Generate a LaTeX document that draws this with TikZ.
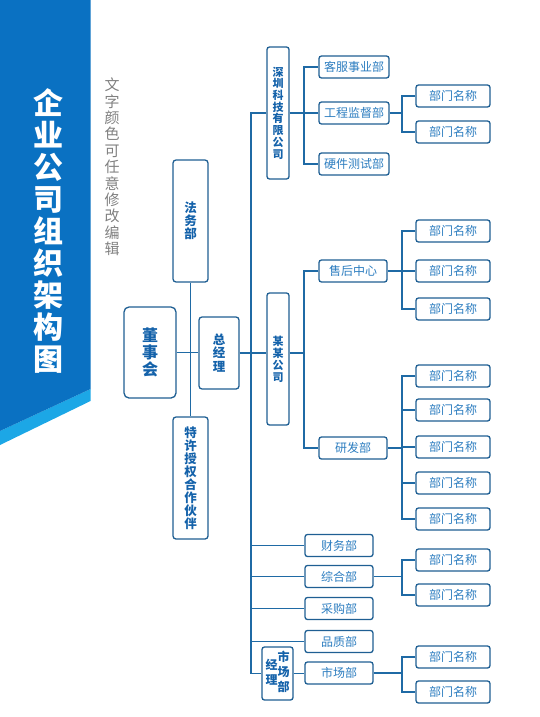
\documentclass[tikz,border=0pt]{standalone}
\usepackage{fontspec}
\newfontfamily\cjk{Noto Sans CJK SC}
\usetikzlibrary{positioning,calc}
\definecolor{bannerblue}{HTML}{0A71C2}
\definecolor{stripeblue}{HTML}{1CA7E6}
\definecolor{lnblue}{HTML}{1F6AA5}
\definecolor{bdblue}{HTML}{1F5F93}
\definecolor{txblue}{HTML}{2C7DC0}
\definecolor{bdtext}{HTML}{1462AA}
\definecolor{tipgrey}{HTML}{808080}

\begin{document}
\begin{tikzpicture}[x=1pt,y=-1pt,
    every node/.style={font=\cjk\fontsize{12}{13}\selectfont, text=txblue},
    dept/.style={draw=bdblue, line width=1.3pt, rounded corners=2.5pt, fill=white, minimum width=68, minimum height=22, inner sep=0pt},
    leaf/.style={dept, minimum width=74},
    vbox/.style={dept, align=center, text=bdtext, font=\cjk\bfseries\fontsize{12.5}{13}\selectfont},
    link/.style={draw=lnblue, line width=1.3pt}]
    \useasboundingbox (0,0) rectangle (539,717);
    \fill[stripeblue] (0,431) -- (90.5,389) -- (90.5,401) -- (0,445) -- cycle;
    \fill[bannerblue] (0,0) -- (90.5,0) -- (90.5,389) -- (0,431) -- cycle;
    \node[font=\cjk\bfseries\fontsize{30}{32}\selectfont, text=white, align=center] (title) at (48,231) {企\\业\\公\\司\\组\\织\\架\\构\\图};
    \node[font=\cjk\fontsize{15}{16.4}\selectfont, text=tipgrey, align=center] (tip) at (112,167) {文\\字\\颜\\色\\可\\任\\意\\修\\改\\编\\辑};

    \node[vbox, minimum width=52, minimum height=91, rounded corners=5pt, font=\cjk\bfseries\fontsize{16}{17}\selectfont] (dsh) at (150,352.5) {董\\事\\会};
    \node[vbox, minimum width=35, minimum height=122, rounded corners=3pt] (fwb) at (190.5,221) {法\\务\\部};
    \node[vbox, minimum width=35, minimum height=122, rounded corners=3pt] (txsq) at (190.5,478) {特\\许\\授\\权\\合\\作\\伙\\伴};
    \node[vbox, minimum width=40, minimum height=72, rounded corners=3pt, font=\cjk\bfseries\fontsize{12.5}{13.5}\selectfont] (zjl) at (219,353) {总\\经\\理};
    \node[vbox, minimum width=22, minimum height=132, font=\cjk\bfseries\fontsize{11}{11.7}\selectfont] (szkj) at (278,113) {深\\圳\\科\\技\\有\\限\\公\\司};
    \node[vbox, minimum width=22, minimum height=132, font=\cjk\bfseries\fontsize{11}{12}\selectfont] (mmgs) at (278,359) {某\\某\\公\\司};
    \node[vbox, minimum width=31, minimum height=53, font=\cjk\bfseries\fontsize{12}{15}\selectfont] (scjl) at (277.5,673.5)
      {\begin{tabular}[c]{@{}c@{}}经\\理\end{tabular}\begin{tabular}[c]{@{}c@{}}市\\场\\部\end{tabular}};

    \node[dept, minimum width=70] (kfsy) at (354,67) {客服事业部};
    \node[dept, minimum width=70] (gcjd) at (354,113) {工程监督部};
    \node[dept, minimum width=70] (yjcs) at (354,164) {硬件测试部};
    \node[dept] (shzx) at (353,271) {售后中心};
    \node[dept] (yfb) at (353,448) {研发部};
    \node[dept] (cwb) at (339,545.5) {财务部};
    \node[dept] (zhb) at (339,576.5) {综合部};
    \node[dept] (cgb) at (339,608.5) {采购部};
    \node[dept] (pzb) at (339,641.5) {品质部};
    \node[dept] (scb) at (339,673) {市场部};

    \foreach \y [count=\i] in {96,132} \node[leaf] (gc\i) at (453,\y) {部门名称};
    \foreach \y [count=\i] in {231,271,309} \node[leaf] (sh\i) at (453,\y) {部门名称};
    \foreach \y [count=\i] in {376,410,447,483,519} \node[leaf] (yf\i) at (453,\y) {部门名称};
    \foreach \y [count=\i] in {560,595} \node[leaf] (zh\i) at (453,\y) {部门名称};
    \foreach \y [count=\i] in {657,692} \node[leaf] (sc\i) at (453,\y) {部门名称};

    \coordinate (trunk) at (251,0);
    \coordinate (busa) at (304,0);
    \coordinate (busb) at (402,0);

    \draw[link] (fwb) -- (txsq);
    \draw[link] (dsh.east) -- (dsh.east -| zjl.west);
    \draw[link] (zjl.east) -- (zjl.east -| mmgs.west);
    \draw[link] (szkj.west) -| (trunk |- scjl.west) -- (scjl.west);
    \foreach \n in {cwb,zhb,cgb,pzb} \draw[link] (\n.west) -- (\n.west -| trunk);
    \draw[link] (scjl.east) -- (scjl.east -| scb.west);

    \draw[link] (szkj.east) -- (gcjd.west);
    \draw[link] (kfsy.west) -| (busa |- yjcs.west) -- (yjcs.west);
    \draw[link] (zjl.east -| mmgs.east) -- (zjl.east -| busa);
    \draw[link] (shzx.west) -| (busa |- yfb.west) -- (yfb.west);

    \draw[link] (gcjd.east) -- (gcjd.east -| busb);
    \draw[link] (gc1.west) -| (busb |- gc2.west) -- (gc2.west);
    \draw[link] (shzx.east) -- (sh2.west);
    \draw[link] (sh1.west) -| (busb |- sh3.west) -- (sh3.west);
    \draw[link] (yfb.east) -- (yfb.east -| busb);
    \draw[link] (yf1.west) -| (busb |- yf5.west) -- (yf5.west);
    \foreach \i in {2,3,4} \draw[link] (yf\i.west) -- (yf\i.west -| busb);
    \draw[link] (zhb.east) -- (zhb.east -| busb);
    \draw[link] (zh1.west) -| (busb |- zh2.west) -- (zh2.west);
    \draw[link] (scb.east) -- (scb.east -| busb);
    \draw[link] (sc1.west) -| (busb |- sc2.west) -- (sc2.west);
\end{tikzpicture}
\end{document}
